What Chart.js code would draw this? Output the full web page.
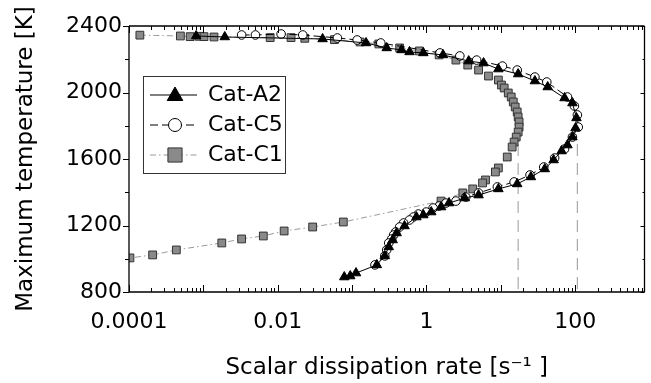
<!DOCTYPE html>
<html lang="en">
<head>
<meta charset="UTF-8" />
<title>Maximum temperature vs scalar dissipation rate</title>
<script src="https://cdn.jsdelivr.net/npm/chart.js@4/dist/chart.umd.min.js"></script>
<style>
  html, body { margin: 0; padding: 0; background: #fff; }
  #wrap { width: 651px; height: 383px; }
</style>
</head>
<body>
<div id="wrap"><canvas id="chart-tmax" width="651" height="383"></canvas></div>
<script>
  // Cat-A2 (triangles, solid line), top-left -> around -> bottom
  const a2Chi = [8.0e-4, 1.94e-3, 0.0401, 0.154, 0.292, 0.462, 0.592, 0.908, 1.67, 3.70,
    5.86, 9.27, 17.1, 28.7, 42.7, 71.9, 91.8, 104, 101, 91.8,
    78.7, 65.6, 51.3, 39.0, 25.4, 16.6, 9.27, 5.02, 3.27, 2.01,
    1.57, 1.16, 0.908, 0.733, 0.507, 0.397, 0.351, 0.311, 0.275, 0.215,
    0.113, 0.0944, 0.0785];
  const a2T = [2340, 2334, 2322, 2298, 2268, 2256, 2244, 2238, 2226, 2189,
    2177, 2141, 2111, 2069, 2033, 1967, 1937, 1847, 1786, 1732,
    1684, 1648, 1594, 1540, 1492, 1450, 1420, 1383, 1365, 1335,
    1311, 1281, 1263, 1251, 1197, 1155, 1113, 1071, 1017, 963,
    914, 896, 890];

  // Cat-C5 (open circles, dashed line)
  const c5Chi = [3.27e-3, 5.01e-3, 0.0111, 0.0217, 0.0634, 0.117, 0.243, 1.52, 2.81, 4.73,
    10.5, 16.6, 28.7, 41.5, 78.7, 97.5, 107, 110, 91.8, 71.9,
    52.9, 37.8, 24.7, 15.1, 8.99, 5.02, 3.38, 2.49, 1.83, 1.48,
    1.23, 0.993, 0.778, 0.668, 0.592, 0.492, 0.436, 0.385, 0.362, 0.341,
    0.311, 0.292, 0.275, 0.203];
  const c5T = [2346, 2346, 2352, 2346, 2328, 2316, 2298, 2238, 2220, 2195,
    2159, 2135, 2093, 2063, 1973, 1919, 1865, 1792, 1732, 1660,
    1606, 1552, 1504, 1462, 1432, 1396, 1371, 1347, 1335, 1317,
    1305, 1281, 1269, 1251, 1233, 1215, 1191, 1161, 1143, 1119,
    1095, 1053, 1017, 963];

  // Cat-C1 (grey squares, dash-dot line)
  const c1Chi = [1.40e-4, 4.91e-4, 6.65e-4, 8.77e-4, 1.02e-3, 1.39e-3, 7.92e-3, 0.0151, 0.0231, 0.0578,
    0.128, 0.229, 0.436, 0.80, 1.48, 2.49, 3.59, 5.02, 6.82, 9.27,
    10.2, 11.1, 12.6, 13.8, 14.7, 15.6, 16.6, 17.1, 17.6, 17.6,
    17.1, 16.1, 15.1, 14.2, 12.2, 9.27, 8.45, 6.22, 5.68, 4.19,
    3.08, 1.57, 0.0762, 0.0295, 0.0122, 6.40e-3, 3.27e-3, 1.77e-3, 4.33e-4, 2.08e-4,
    1.03e-4];
  const c1T = [2345, 2340, 2336, 2338, 2336, 2334, 2330, 2330, 2326, 2318,
    2304, 2292, 2268, 2250, 2226, 2195, 2165, 2135, 2099, 2075,
    2045, 2027, 1997, 1973, 1943, 1913, 1883, 1853, 1823, 1792,
    1762, 1732, 1702, 1672, 1612, 1546, 1522, 1474, 1456, 1420,
    1396, 1347, 1221, 1191, 1167, 1137, 1119, 1095, 1053, 1023,
    1005];

  // vertical dashed markers (extinction rates)
  const extChi = [17.1, 107];
  const extTopT = [1690, 1690];

  const xTickValues = [1e-4, 1e-2, 1, 100];
  const xTickLabels = ["0.0001", "0.01", "1", "100"];
  const yTickValues = [800, 1200, 1600, 2000, 2400];

  const FONT = "'DejaVu Sans', Verdana, sans-serif";

  function pts(xs, ys) {
    return xs.map((x, i) => ({ x: x, y: ys[i] }));
  }

  const datasets = [
    {
      label: "Cat-A2",
      data: pts(a2Chi, a2T),
      showLine: true,
      borderColor: "#000",
      borderWidth: 1,
      pointStyle: "triangle",
      pointRadius: 5.5,
      pointBackgroundColor: "#000",
      pointBorderColor: "#000",
      pointBorderWidth: 1,
    },
    {
      label: "Cat-C5",
      data: pts(c5Chi, c5T),
      showLine: true,
      borderColor: "#000",
      borderWidth: 1,
      borderDash: [8, 4],
      pointStyle: "circle",
      pointRadius: 4.3,
      pointBackgroundColor: "#fff",
      pointBorderColor: "#000",
      pointBorderWidth: 1,
    },
    {
      label: "Cat-C1",
      data: pts(c1Chi, c1T),
      showLine: true,
      borderColor: "#9a9a9a",
      borderWidth: 1,
      borderDash: [6, 3, 1.5, 3],
      pointStyle: "rect",
      pointRadius: 5.5,
      pointBackgroundColor: "#8a8a8a",
      pointBorderColor: "#333",
      pointBorderWidth: 1,
    },
  ];

  extChi.forEach((c, i) => {
    datasets.push({
      label: "",
      data: [{ x: c, y: extTopT[i] }, { x: c, y: 800 }],
      showLine: true,
      borderColor: "#aaa",
      borderWidth: 1.2,
      borderDash: [12, 7],
      pointRadius: 0,
    });
  });

  // frame, inside ticks and the boxed legend
  const framePlugin = {
    id: "framePlugin",
    afterDatasetsDraw(chart) {
      const { ctx, chartArea: a, scales } = chart;
      const x = scales.x, y = scales.y;
      const seg = (x1, y1, x2, y2) => { ctx.moveTo(x1, y1); ctx.lineTo(x2, y2); };
      ctx.save();
      ctx.strokeStyle = "#000";
      ctx.lineWidth = 1.3;
      ctx.beginPath();
      seg(a.left, a.top, a.right, a.top);
      seg(a.left, a.top, a.left, a.bottom);
      seg(a.left, a.bottom, a.right, a.bottom);
      seg(a.right, a.top, a.right, a.bottom);
      ctx.stroke();

      ctx.lineWidth = 1;
      ctx.beginPath();
      for (let e = -4; e <= 3; e++) {
        for (let k = 1; k <= 9; k++) {
          const v = k * Math.pow(10, e);
          if (v < x.min || v > x.max) continue;
          const px = Math.round(x.getPixelForValue(v)) + 0.5;
          const len = k === 1 ? 7 : 4;
          seg(px, a.bottom, px, a.bottom - len);
          seg(px, a.top, px, a.top + len);
        }
      }
      for (let v = 800; v <= 2400; v += 200) {
        const py = Math.round(y.getPixelForValue(v)) + 0.5;
        const major = v % 400 === 0;
        seg(a.left - (major ? 6 : 4), py, a.left, py);
        seg(a.right - (major ? 4 : 2), py, a.right, py);
      }
      ctx.stroke();

      // legend box
      const bx = 143.5, by = 76.5, bw = 142, bh = 97;
      ctx.fillStyle = "#fff";
      ctx.fillRect(bx, by, bw, bh);
      ctx.strokeStyle = "#333";
      ctx.lineWidth = 1;
      ctx.strokeRect(bx, by, bw, bh);
      const legendSize = { triangle: 9, circle: 6.5, rect: 10 };
      for (let i = 0; i < 3; i++) {
        const ds = datasets[i];
        const ry = 95 + i * 30;
        ctx.save();
        ctx.strokeStyle = ds.borderColor;
        ctx.lineWidth = 1;
        ctx.setLineDash(ds.borderDash || []);
        ctx.beginPath();
        seg(150, ry, 197, ry);
        ctx.stroke();
        ctx.restore();
        ctx.fillStyle = ds.pointBackgroundColor;
        ctx.strokeStyle = ds.pointBorderColor;
        ctx.lineWidth = 1;
        Chart.helpers.drawPoint(ctx, {
          pointStyle: ds.pointStyle,
          radius: legendSize[ds.pointStyle],
          rotation: 0,
          borderWidth: 1,
        }, 175, ry + (ds.pointStyle === "triangle" ? 1 : 0));
        ctx.fillStyle = "#000";
        ctx.font = "22px " + FONT;
        ctx.textAlign = "left";
        ctx.textBaseline = "middle";
        ctx.fillText(ds.label, 208, ry);
      }
      ctx.restore();
    },
  };

  const tickFont = { family: FONT, size: 22 };
  const titleFont = { family: FONT, size: 23 };

  new Chart(document.getElementById("chart-tmax").getContext("2d"), {
    type: "scatter",
    data: { datasets: datasets },
    options: {
      animation: false,
      responsive: false,
      devicePixelRatio: 1,
      layout: { padding: { top: 26, right: 0, left: 0, bottom: 0 } },
      plugins: { legend: { display: false }, tooltip: { enabled: false } },
      scales: {
        x: {
          type: "logarithmic",
          min: 1e-4,
          max: 855,
          afterBuildTicks: (s) => { s.ticks = xTickValues.map((v) => ({ value: v })); },
          afterFit: (s) => { s.height = 91; },
          grid: { display: false, drawTicks: false },
          border: { display: false },
          ticks: {
            callback: (v, i) => xTickLabels[i],
            font: tickFont,
            color: "#000",
            padding: 17,
            maxRotation: 0,
            autoSkip: false,
          },
          title: {
            display: true,
            text: "Scalar dissipation rate [s\u207B\u00B9 ]",
            font: titleFont,
            color: "#000",
            padding: { top: 0, bottom: 1 },
          },
        },
        y: {
          min: 800,
          max: 2400,
          afterBuildTicks: (s) => { s.ticks = yTickValues.map((v) => ({ value: v })); },
          afterFit: (s) => { s.width = 129; },
          grid: { display: false, drawTicks: false },
          border: { display: false },
          ticks: {
            callback: (v) => String(v),
            font: tickFont,
            color: "#000",
            padding: 7,
          },
          title: {
            display: true,
            text: "Maximum temperature [K]",
            font: titleFont,
            color: "#000",
            padding: { top: 12, bottom: 0 },
          },
        },
      },
    },
    plugins: [framePlugin],
  });
</script>
</body>
</html>
